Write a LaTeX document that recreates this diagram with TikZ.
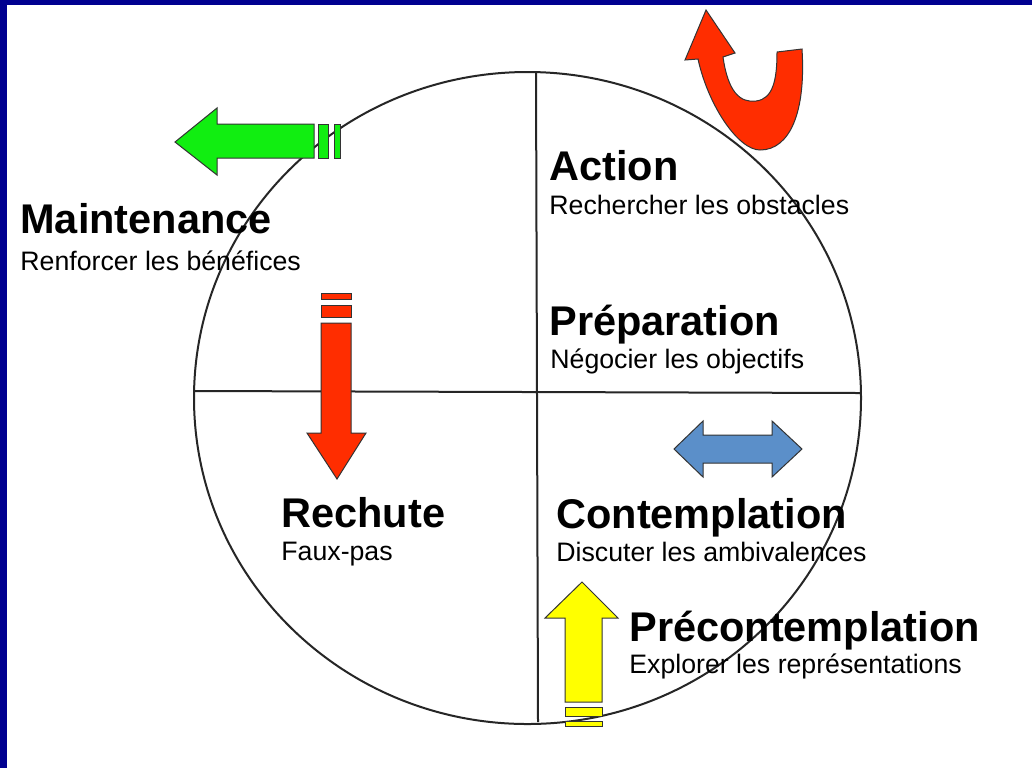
\documentclass[tikz,border=0pt]{standalone}
\usepackage{fontspec}
\setmainfont{Liberation Sans}
\usetikzlibrary{positioning}

\definecolor{frameblue}{HTML}{000090}
\definecolor{arrowred}{HTML}{FF2D00}
\definecolor{arrowgreen}{HTML}{11EE11}
\definecolor{arrowyellow}{HTML}{FFFF00}
\definecolor{arrowblue}{HTML}{5B8FC9}

\begin{document}
\begin{tikzpicture}[
    x=0.5pt, y=-0.5pt,
    stage/.style={anchor=base west, inner sep=0pt, font=\fontsize{20.75}{24}\selectfont\bfseries},
    hint/.style={anchor=base west, inner sep=0pt, font=\fontsize{13.35}{16}\selectfont},
    wheel/.style={draw=black!85, line width=1pt},
    block/.style={draw=black!80, line width=0.5pt, line join=miter}
]

% --- Frame ---
\useasboundingbox (0,0) rectangle (1032,768);
\fill[white] (0,0) rectangle (1032,768);
\fill[frameblue] (0,0) rectangle (7,768);
\fill[frameblue] (0,0) rectangle (1032,5);

% --- Wheel ---
\coordinate (hub) at (527.5,398);
\draw[wheel] (hub) ellipse [x radius=333.5, y radius=326];
\draw[wheel] (194,391) -- (861,393);
\draw[wheel] (536,72) -- (538,722);

% --- Stages ---
\node (action) [stage] at (549,180) {Action};
\node (action_sub) [hint] at (549,214) {Rechercher les obstacles};

\node (prep) [stage] at (549,335) {Préparation};
\node (prep_sub) [hint] at (550,368) {Négocier les objectifs};

\node (contemp) [stage] at (556,528) {Contemplation};
\node (contemp_sub) [hint] at (556,561) {Discuter les ambivalences};

\node (precontemp) [stage] at (629,641) {Précontemplation};
\node (precontemp_sub) [hint] at (629,673) {Explorer les représentations};

\node (relapse) [stage] at (281,527) {Rechute};
\node (relapse_sub) [hint] at (281,560) {Faux-pas};

\node (maint) [stage] at (20,233) {Maintenance};
\node (maint_sub) [hint] at (20,270) {Renforcer les bénéfices};

% --- Block arrows ---

% green: maintenance (to the left)
\filldraw[block, fill=arrowgreen] (175,142) -- (217,108) -- (217,124) -- (314,124)
    -- (314,158) -- (217,158) -- (217,175) -- cycle;
\filldraw[block, fill=arrowgreen] (318,124) rectangle (328,158);
\filldraw[block, fill=arrowgreen] (334,124) rectangle (340,158);

% red: relapse (downwards)
\filldraw[block, fill=arrowred] (321,293) rectangle (351,299);
\filldraw[block, fill=arrowred] (321,305) rectangle (351,317);
\filldraw[block, fill=arrowred] (321,323) -- (351,323) -- (351,433) -- (366,433)
    -- (337,479) -- (307,433) -- (321,433) -- cycle;

% yellow: precontemplation (upwards)
\filldraw[block, fill=arrowyellow] (582,582) -- (618,618) -- (602,618) -- (602,702)
    -- (565,702) -- (565,618) -- (545,618) -- cycle;
\filldraw[block, fill=arrowyellow] (565,707) rectangle (602,716);
\filldraw[block, fill=arrowyellow] (565,721) rectangle (602,726);

% blue: contemplation (both ways)
\filldraw[block, fill=arrowblue] (674,449) -- (703,421) -- (703,435) -- (772,435)
    -- (772,421) -- (802,449) -- (772,477) -- (772,463) -- (703,463) -- (703,477) -- cycle;

% red: action (u-turn)
\filldraw[block, fill=arrowred] (706,10) -- (735,53) -- (723,57)
    .. controls (728,92) and (740,103) .. (756,101)
    .. controls (773,99) and (777,80) .. (777,52)
    -- (802,49)
    .. controls (806,112) and (790,150) .. (760,150)
    .. controls (738,150) and (708,105) .. (698,59)
    -- (685,60) -- cycle;

\end{tikzpicture}
\end{document}
